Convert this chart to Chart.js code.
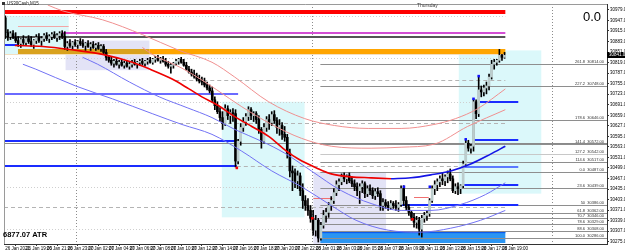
<!DOCTYPE html>
<html><head><meta charset="utf-8">
<script src="https://cdn.jsdelivr.net/npm/chart.js@4.4.1/dist/chart.umd.min.js"></script>
<style>html,body{margin:0;padding:0;background:#fff;overflow:hidden}#wrap{width:625px;height:252px;position:relative}</style>
</head><body><div id="wrap"><canvas id="c" width="625" height="252"></canvas></div>
<script>
// ---------- DATA ----------
const symbolTitle = "US30Cash,M15";
const atrText = "6877.07 ATR";
const dayText = "Thursday";
const bigValue = "0.0";
const currentPrice = 30841;

const opens = [30955,30910,30898,30907,30895,30886,30877,30889,30880,30892,30883,30874,30886,30895,30886,30892,30901,30892,30898,30904,30895,30901,30907,30898,30868,30877,30871,30880,30874,30883,30877,30871,30877,30868,30874,30865,30871,30862,30868,30850,30835,30826,30817,30823,30814,30820,30811,30817,30808,30814,30820,30814,30820,30823,30817,30823,30826,30820,30829,30832,30826,30829,30823,30814,30808,30811,30817,30823,30829,30820,30811,30799,30790,30784,30778,30769,30763,30760,30751,30742,30733,30706,30688,30670,30652,30634,30679,30658,30667,30664,30520,30580,30622,30640,30655,30676,30658,30664,30646,30616,30580,30622,30646,30637,30661,30643,30622,30628,30601,30592,30544,30490,30484,30460,30475,30430,30400,30385,30370,30346,30310,30340,30286,30325,30355,30364,30385,30400,30424,30448,30457,30472,30466,30475,30460,30451,30442,30430,30442,30451,30421,30436,30430,30415,30427,30421,30385,30394,30385,30379,30391,30385,30379,30388,30436,30400,30379,30364,30349,30334,30340,30313,30346,30355,30361,30400,30436,30448,30457,30466,30460,30472,30481,30466,30430,30442,30436,30445,30511,30574,30559,30565,30700,30664,30736,30730,30742,30748,30775,30814,30820,30826,30841,30835];
const highs = [30961,30919,30913,30916,30910,30898,30892,30901,30895,30901,30898,30889,30904,30907,30898,30907,30910,30904,30910,30913,30907,30913,30916,30913,30883,30889,30883,30889,30886,30892,30889,30880,30886,30880,30883,30877,30880,30874,30874,30859,30841,30835,30829,30832,30826,30829,30823,30826,30820,30826,30829,30823,30829,30832,30826,30832,30835,30832,30838,30841,30835,30838,30832,30823,30817,30820,30829,30832,30835,30829,30820,30808,30799,30796,30787,30781,30775,30772,30760,30751,30745,30715,30700,30682,30670,30691,30688,30676,30679,30676,30586,30634,30652,30664,30685,30682,30670,30670,30658,30622,30634,30655,30661,30670,30673,30652,30646,30637,30625,30601,30556,30505,30496,30490,30484,30451,30415,30406,30385,30370,30355,30346,30334,30370,30376,30394,30412,30436,30460,30466,30481,30484,30478,30484,30472,30463,30454,30451,30460,30457,30445,30448,30439,30436,30439,30430,30406,30403,30397,30400,30397,30400,30394,30445,30445,30412,30388,30370,30361,30352,30349,30355,30364,30370,30406,30445,30460,30466,30475,30484,30478,30490,30496,30475,30451,30454,30448,30520,30586,30583,30571,30709,30706,30775,30748,30751,30760,30784,30826,30829,30829,30859,30844,30850];
const lows = [30892,30886,30889,30892,30880,30868,30865,30874,30871,30877,30868,30862,30877,30880,30871,30883,30886,30880,30889,30892,30883,30889,30892,30859,30856,30865,30859,30868,30862,30871,30865,30856,30865,30856,30862,30856,30859,30853,30844,30826,30820,30811,30805,30811,30802,30808,30802,30805,30799,30805,30811,30802,30811,30811,30808,30814,30817,30814,30820,30823,30817,30820,30808,30802,30787,30802,30811,30814,30817,30808,30796,30787,30778,30772,30763,30757,30751,30745,30736,30727,30700,30676,30664,30640,30616,30628,30646,30634,30640,30502,30511,30568,30610,30628,30643,30646,30640,30634,30604,30559,30574,30610,30616,30628,30634,30604,30598,30586,30580,30529,30472,30430,30439,30436,30415,30376,30370,30355,30334,30295,30292,30274,30280,30316,30334,30349,30370,30391,30415,30430,30448,30457,30451,30454,30442,30430,30415,30391,30424,30409,30412,30418,30406,30403,30412,30370,30370,30376,30370,30373,30376,30370,30367,30382,30385,30370,30355,30340,30319,30316,30295,30289,30334,30340,30352,30394,30418,30430,30442,30448,30445,30454,30460,30424,30421,30418,30421,30439,30505,30550,30544,30550,30649,30655,30715,30718,30724,30736,30769,30799,30811,30820,30826,30832];
const closes = [30910,30898,30907,30895,30886,30877,30889,30880,30892,30883,30874,30886,30895,30886,30892,30901,30892,30898,30904,30895,30901,30907,30898,30868,30877,30871,30880,30874,30883,30877,30871,30877,30868,30874,30865,30871,30862,30868,30850,30835,30826,30817,30823,30814,30820,30811,30817,30808,30814,30820,30814,30820,30823,30817,30823,30826,30820,30829,30832,30826,30829,30823,30814,30808,30811,30817,30823,30829,30820,30811,30799,30790,30784,30778,30769,30763,30760,30751,30742,30733,30706,30688,30670,30652,30634,30679,30658,30667,30664,30520,30580,30622,30640,30655,30676,30658,30664,30646,30616,30580,30622,30646,30637,30661,30643,30622,30628,30601,30592,30544,30490,30484,30460,30475,30430,30400,30385,30370,30346,30310,30340,30286,30325,30355,30364,30385,30400,30424,30448,30457,30472,30466,30475,30460,30451,30442,30430,30442,30451,30421,30436,30430,30415,30427,30421,30385,30394,30385,30379,30391,30385,30379,30388,30436,30400,30379,30364,30349,30334,30340,30313,30346,30355,30361,30400,30436,30448,30457,30466,30460,30472,30481,30466,30430,30442,30436,30445,30511,30574,30559,30565,30700,30664,30736,30730,30742,30748,30775,30814,30820,30826,30841,30835,30841];

// time axis: bar index of each label and its text
const timeTickIdx = [0,8,16,24,32,40,48,56,64,72,80,88,96,104,112,120,128,136,144,152,160,168,176,184,192];
const timeLabels = ["26 Jan 2021","26 Jan 19:00","26 Jan 21:00","26 Jan 23:00","27 Jan 02:00","27 Jan 04:00","27 Jan 06:00","27 Jan 08:00","27 Jan 10:00","27 Jan 12:00","27 Jan 14:00","27 Jan 16:00","27 Jan 18:00","27 Jan 20:00","27 Jan 22:00","28 Jan 01:00","28 Jan 03:00","28 Jan 05:00","28 Jan 07:00","28 Jan 09:00","28 Jan 11:00","28 Jan 13:00","28 Jan 15:00","28 Jan 17:00","28 Jan 19:00"];
const yTicks = [30979,30947,30915,30883,30851,30819,30787,30755,30723,30691,30659,30627,30595,30563,30531,30499,30467,30435,30403,30371,30339,30307,30275];
const daySeparators = [27.5,118.5,211.5];

// moving average (thick) – falling part and rising part, [barIndex, price]
const maFalling = [[3.7,30871],[14.5,30868],[24.9,30859],[37.6,30844],[49.1,30820],[56.8,30796],[64.5,30769],[71,30739],[76,30715],[81.8,30691],[88.7,30655],[95.3,30625],[101.8,30595],[108.7,30550],[113.3,30526],[120.3,30499],[126,30481],[133.7,30472],[141.4,30469],[149.1,30466]];
const maRising = [[149.1,30466],[156.8,30469],[164.5,30478],[172.2,30490],[179.9,30511],[187.6,30541],[193.3,30565]];
const upperBand1 = [[16.4,30994],[22.2,30976],[37.6,30949],[53,30904],[67.2,30856],[79.9,30820],[88.7,30775],[101.8,30700],[115.7,30649],[127.2,30628],[140.3,30619],[153,30619],[165.7,30631],[174.1,30649],[182.6,30679],[193.3,30739]];
const upperBand2 = [[53,30865],[56.8,30844],[68.3,30802],[76,30766],[81.8,30736],[91.4,30685],[103,30631],[114.5,30589],[126,30565],[141.4,30559],[153,30562],[165.7,30571],[178.7,30625],[193.3,30676]];
const lowerBand1 = [[29.9,30835],[35.7,30814],[48,30760],[59.5,30715],[70.3,30682],[79.9,30652],[88.7,30616],[99.1,30580],[108,30544],[118.3,30490],[129.9,30430],[141.4,30391],[153,30370],[164.5,30370],[176,30388],[185.6,30418],[193.3,30454]];
const lowerBand2 = [[6.8,30814],[11.8,30799],[27.2,30748],[41.4,30709],[56.8,30664],[68.3,30631],[79.9,30601],[91.4,30550],[103,30490],[114.5,30442],[126,30385],[135.6,30340],[148,30310],[160.7,30304],[172.2,30316],[183.7,30340],[193.3,30370]];

// signal dots [barIndex, price]
const redDots = [[89.5,30499],[118.7,30346],[157.4,30343]];
const blueDots = [[154.1,30442],[164.1,30442],[178,30586],[181,30709],[183,30778]];

// zones [fromIdx, toIdx, topPrice, bottomPrice]
const cyanZones = [[-0.5,24.5,30961,30844],[83.7,115.7,30700,30349],[175.3,207.2,30856,30421]];
const lavenderZones = [[23.3,55.7,30886,30796],[119.1,147.2,30487,30268]];
const blueZone = [121.8,193.3,30307,30271];

// horizontal levels [price, fromIdx, toIdx]
const redLevel = [30973,-0.5,193.3];
const magentaLevel = [30910,22.2,193.3];
const darkLevel = [30896,-0.5,193.3];
const orangeLevel = [30853,4.9,193.3];
const pinkLevel = [30931,4.9,24.5];
const dottedLevels = [[30961,-0.5,193.3],[30832,-0.5,193.3],[30700,-0.5,193.3],[30442,-0.5,119],[30313,-0.5,119]];
const dashedLevels = [[30766,65.7,193.3],[30637,-0.5,193.3],[30505,89.5,193.3],[30379,-0.5,193.3]];
const greyLevels = [[30574,-0.5,232.6]];
const blueLevelsLeft = [[30871,-0.5,4.9],[30724,-0.5,90],[30580,-0.5,89.5],[30505,-0.5,89.5]];
const blueLevelsRight = [[30700,183,198.3],[30583,181,198.3],[30502,177.2,198.3],[30448,177.2,198.3],[30385,153,198.3]];
const redSegments = [[30409,119.1,126.8],[30412,158,163.7]];

// fibonacci levels
const fibLabels = ["261.8","227.2","178.6","141.4","127.2","114.6","0.0","23.6","50","61.8","70.7","78.6","88.6","100.0"];
const fibPrices = [30814,30748,30646,30572,30542,30517,30487,30439,30386,30362,30346,30329,30308,30286];
const fibStart = 121.8;

// ---------- CHART ----------
const FONT = '"Liberation Sans", Arial, sans-serif';
const toXY = arr => arr.map(p => ({x:p[0], y:p[1]}));
const bodies = opens.map((o,i)=>({x:i, y:[o, closes[i]]}));
const wicks = highs.map((h,i)=>({x:i, y:[lows[i], h]}));
const bodyColors = opens.map((o,i)=> closes[i] >= o ? '#bccdcd' : '#000000');

const lineDs = (data, color, width) => ({type:'line', data:toXY(data), borderColor:color, borderWidth:width, pointRadius:0, tension:0.4, cubicInterpolationMode:'monotone', fill:false, order:1});

const overlay = {
  id:'overlay',
  beforeDatasetsDraw(chart){
    const {ctx, chartArea:a, scales:{x, y}} = chart;
    const X = v => x.getPixelForValue(v), Y = v => y.getPixelForValue(v);
    ctx.save();
    ctx.beginPath(); ctx.rect(a.left, a.top, a.right-a.left, a.bottom-a.top); ctx.clip();
    const rect = (z, c) => { ctx.fillStyle = c; ctx.fillRect(X(z[0]), Y(z[2]), X(z[1])-X(z[0]), Y(z[3])-Y(z[2])); };
    cyanZones.forEach(z => rect(z, '#dbf8fa'));
    lavenderZones.forEach(z => rect(z, '#e3e3f6'));
    rect(blueZone, '#2b95f2');
    ctx.fillStyle = '#0b5cf0'; ctx.fillRect(X(blueZone[0]), Y(blueZone[2]), X(blueZone[1])-X(blueZone[0]), 2);
    const hl = (l, c, w, dash) => {
      ctx.strokeStyle = c; ctx.lineWidth = w; ctx.setLineDash(dash || []);
      const yy = Math.round(Y(l[0])) + (w % 2 ? 0.5 : 0);
      ctx.beginPath(); ctx.moveTo(X(l[1]), yy); ctx.lineTo(X(l[2]), yy); ctx.stroke();
    };
    // day separators
    ctx.strokeStyle = '#8c8c8c'; ctx.lineWidth = 1; ctx.setLineDash([1,2]);
    daySeparators.forEach(d => { const xx = Math.round(X(d))+0.5; ctx.beginPath(); ctx.moveTo(xx, a.top); ctx.lineTo(xx, a.bottom); ctx.stroke(); });
    dottedLevels.forEach(l => hl(l, '#cfcfcf', 1, [1,2]));
    dashedLevels.forEach(l => hl(l, '#b4b4b4', 1, [4,3]));
    greyLevels.forEach(l => hl(l, '#8a8a8a', 1));
    fibPrices.forEach((p,i) => hl([p, fibStart, 232.6], i===4 ? '#c8c8c8' : '#8e8e8e', 1));
    hl(redLevel, '#ff0000', 4);
    hl(magentaLevel, '#d44ed4', 2);
    hl(darkLevel, '#555555', 2);
    hl(pinkLevel, '#f3a6a6', 1);
    hl([30845,-0.5,193.3], '#f4dfbf', 1);
    hl([orangeLevel[0], orangeLevel[1], 55.7], '#d9a21e', 5);
    hl([orangeLevel[0], 55.7, orangeLevel[2]], '#ffa500', 5);
    blueLevelsLeft.forEach((l,i) => hl(l, i===1 ? '#6a6aff' : '#1a2cff', 2));
    blueLevelsRight.forEach((l,i) => hl(l, i===2 ? '#5a78ff' : '#1a2cff', 2));
    redSegments.forEach(l => hl(l, '#f07070', 1));
    ctx.restore();
  },
  afterDraw(chart){
    const {ctx, chartArea:a, scales:{x, y}} = chart;
    const X = v => x.getPixelForValue(v), Y = v => y.getPixelForValue(v);
    ctx.save();
    ctx.strokeStyle = '#9a9a9a'; ctx.lineWidth = 1; ctx.setLineDash([]);
    ctx.beginPath(); ctx.moveTo(a.left+0.5, a.bottom); ctx.lineTo(a.left+0.5, a.top+0.5); ctx.lineTo(a.right, a.top+0.5); ctx.stroke();
    // title
    ctx.fillStyle = '#333'; ctx.fillRect(2, 2, 3, 3);
    ctx.font = '4.5px ' + FONT; ctx.textBaseline = 'middle'; ctx.textAlign = 'left';
    ctx.fillStyle = '#222'; ctx.fillText(symbolTitle, 7, 4);
    ctx.fillStyle = '#444'; ctx.font = '5px ' + FONT; ctx.fillText(dayText, 417, 6);
    ctx.fillStyle = '#000'; ctx.font = '13px ' + FONT; ctx.fillText(bigValue, 583, 17);
    ctx.font = 'bold 7.5px ' + FONT; ctx.textBaseline = 'alphabetic'; ctx.fillText(atrText, 3, 237);
    // fib labels
    ctx.font = '4px ' + FONT; ctx.textAlign = 'right'; ctx.fillStyle = '#333';
    fibPrices.forEach((p,i) => ctx.fillText(fibLabels[i] + '  ' + p.toFixed(2), 604, Math.round(Y(p)) - 1));
    // current price box
    const cy = Math.round(Y(currentPrice));
    ctx.fillStyle = '#000'; ctx.fillRect(a.right, cy-3, 18, 6);
    ctx.fillStyle = '#fff'; ctx.textAlign = 'left'; ctx.textBaseline = 'middle'; ctx.font = '4.5px ' + FONT;
    ctx.fillText(currentPrice.toFixed(2), a.right+2, cy);
    ctx.restore();
  }
};

new Chart(document.getElementById('c'), {
  type:'bar',
  data:{ datasets:[
    {type:'scatter', data:toXY(redDots), backgroundColor:'#ff0000', borderWidth:0, pointRadius:1.8, pointStyle:'rect', order:0},
    {type:'scatter', data:toXY(blueDots), backgroundColor:'#1010ff', borderWidth:0, pointRadius:1.8, pointStyle:'rect', order:0},
    lineDs(maFalling, '#ee0000', 1.6),
    lineDs(maRising, '#1414e6', 1.6),
    lineDs(upperBand1, '#f09090', 1),
    lineDs(upperBand2, '#f09090', 1),
    lineDs(lowerBand1, '#7272f4', 1),
    lineDs(lowerBand2, '#7272f4', 1),
    {type:'bar', data:bodies, backgroundColor:bodyColors, borderColor:'#000', borderWidth:0, barThickness:2, grouped:false, order:2},
    {type:'bar', data:wicks, backgroundColor:'#000', borderWidth:0, barThickness:1, grouped:false, order:3}
  ]},
  options:{
    responsive:false, animation:false, devicePixelRatio:1,
    layout:{padding:{left:1, top:1, right:0, bottom:0}},
    plugins:{legend:{display:false}, tooltip:{enabled:false}},
    scales:{
      x:{type:'linear', min:-0.5, max:232.6, offset:false,
        grid:{drawOnChartArea:false, drawTicks:true, tickLength:2, color:'#333'},
        border:{color:'#333'},
        afterBuildTicks: s => { s.ticks = timeTickIdx.map(v => ({value:v})); },
        afterFit: s => { s.height = 8; },
        ticks:{autoSkip:false, maxRotation:0, minRotation:0, align:'start', padding:0, color:'#000',
          font:{size:4.5, family:FONT}, callback:(v,i) => timeLabels[i]}},
      y:{type:'linear', position:'right', min:30268, max:30997,
        grid:{drawOnChartArea:false, drawTicks:true, tickLength:2, color:'#333'},
        border:{color:'#333'},
        afterBuildTicks: s => { s.ticks = yTicks.map(v => ({value:v})); },
        afterFit: s => { s.width = 18; },
        ticks:{autoSkip:false, padding:1, color:'#000', font:{size:4.5, family:FONT}, callback:v => v.toFixed(2)}}
    }
  },
  plugins:[overlay]
});
</script></body></html>
